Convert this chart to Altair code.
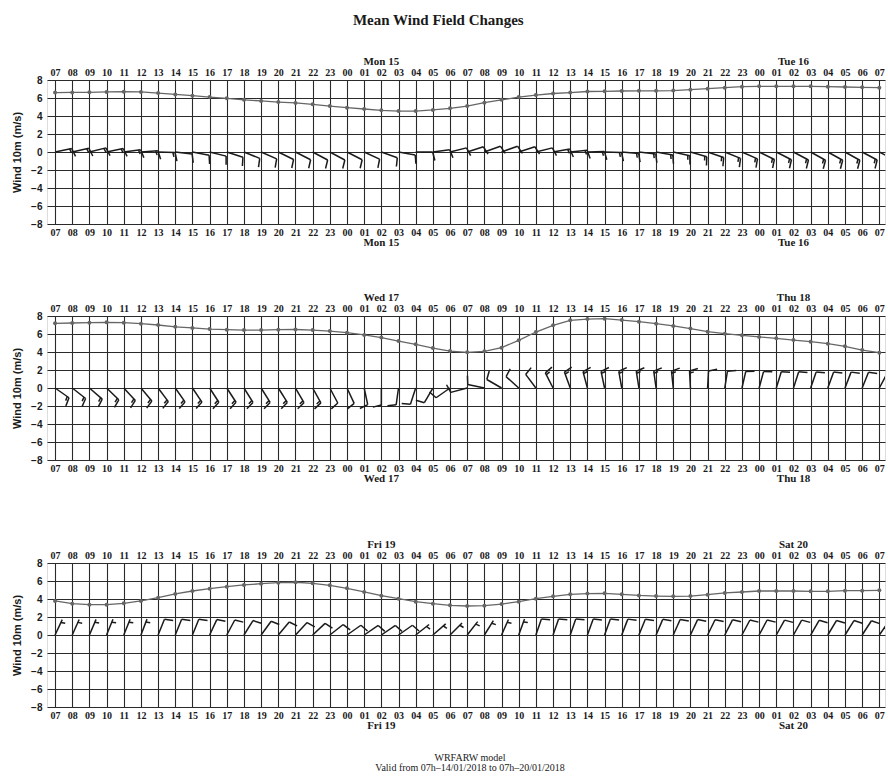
import math
import altair as alt
import pandas as pd

# ---------------- data ----------------
HOURS = ["07", "08", "09", "10", "11", "12", "13", "14", "15", "16", "17", "18", "19", "20",
         "21", "22", "23", "00", "01", "02", "03", "04", "05", "06", "07", "08", "09", "10",
         "11", "12", "13", "14", "15", "16", "17", "18", "19", "20", "21", "22", "23", "00",
         "01", "02", "03", "04", "05", "06", "07"]

DAY_POS = [19, 43]
DAYS_1 = ["Mon 15", "Tue 16"]
DAYS_2 = ["Wed 17", "Thu 18"]
DAYS_3 = ["Fri 19", "Sat 20"]

SPEED_1 = [6.6, 6.62, 6.63, 6.67, 6.7, 6.67, 6.55, 6.4, 6.26, 6.1, 5.96, 5.8, 5.67, 5.55, 5.45, 5.3, 5.1,
           4.93, 4.78, 4.63, 4.55, 4.55, 4.67, 4.85, 5.1, 5.48, 5.8, 6.1, 6.33, 6.5, 6.6, 6.72, 6.74,
           6.78, 6.8, 6.8, 6.83, 6.93, 7.04, 7.15, 7.26,
           7.3, 7.3, 7.3, 7.3, 7.26, 7.22, 7.19, 7.15]
DIR_1 = [78, 77, 76, 78, 82, 86, 92, 97, 101, 104, 108, 112, 114, 116, 117, 118, 118,
         117, 115, 110, 100, 90, 82, 76, 72, 70, 70, 72, 76, 80, 84, 88, 92, 95, 97, 100, 103, 106,
         109, 112, 114,
         116, 117, 118, 119, 119, 119, 118, 118]

SPEED_2 = [7.19, 7.22, 7.26, 7.3, 7.26, 7.15, 7.0, 6.8, 6.67, 6.55, 6.48, 6.44, 6.44, 6.48, 6.5, 6.44, 6.33,
           6.15, 5.9, 5.6, 5.22, 4.85, 4.44, 4.1, 3.96, 4.07, 4.48, 5.3, 6.22, 6.96, 7.52, 7.66, 7.7,
           7.55, 7.37, 7.15, 6.9, 6.6, 6.26, 6.04, 5.85,
           5.67, 5.52, 5.33, 5.15, 4.93, 4.63, 4.22, 3.93]
DIR_2 = [125, 128, 131, 134, 137, 140, 143, 145, 146, 147, 147, 148, 148, 148, 150, 151, 152,
         155, 168, 180, 188, 198, 210, 235, 255, 282, 300, 312, 323, 333, 340, 345, 348, 350, 351,
         352, 354, 357, 3, 9, 13,
         15, 17, 18, 19, 20, 21, 22, 28]

SPEED_3 = [3.78, 3.48, 3.37, 3.37, 3.52, 3.78, 4.15, 4.56, 4.89, 5.15, 5.37, 5.56, 5.7, 5.81, 5.86, 5.74, 5.52,
           5.19, 4.78, 4.37, 4.04, 3.7, 3.48, 3.3, 3.22, 3.26, 3.44, 3.7, 4.04, 4.3, 4.52, 4.6, 4.63,
           4.52, 4.4, 4.33, 4.3, 4.32, 4.48, 4.67, 4.78,
           4.89, 4.89, 4.89, 4.85, 4.85, 4.93, 4.93, 4.96]
DIR_3 = [25, 24, 23, 22, 22, 21, 22, 22, 22, 25, 28, 32, 36, 40, 43, 47, 52,
         55, 56, 56, 55, 52, 49, 45, 38, 32, 24, 20, 19, 19, 19, 20, 20, 21, 22, 23, 24, 25, 26,
         27, 28,
         28, 29, 29, 30, 31, 32, 33, 35]

TITLE = "Mean Wind Field Changes"
FOOTER_1 = "WRFARW model"
FOOTER_2 = "Valid from 07h\u201314/01/2018 to 07h\u201320/01/2018"
Y_TITLE = "Wind 10m (m/s)"

# ---------------- layout / style ----------------
W, H = 838, 144
X0, X1 = -0.47, 48.33
Y0, Y1 = -8, 8
PXH = W / (X1 - X0)
PXU = H / (Y1 - Y0)

STAFF = 17.0
FULL_H = 0.5 * STAFF
FULL_W = 0.25 * STAFF
SPACING = 0.125 * STAFF

SERIF = "Liberation Serif"
SANS = "Liberation Sans"
INK = "#1a1a1a"
LINE_C = "#666666"


def barb_segments(speeds, dirs):
    rows = []
    for i, (s, d) in enumerate(zip(speeds, dirs)):
        r = math.radians(d)
        ux, uy = math.sin(r), math.cos(r)
        px, py = math.cos(r), -math.sin(r)
        tx, ty = STAFF * ux, STAFF * uy

        def add(ax, ay, bx, by):
            rows.append({"x": i + ax / PXH, "y": ay / PXU, "x2": i + bx / PXH, "y2": by / PXU})

        add(0, 0, tx, ty)
        kts = s * 1.944
        rounded = 5 * round(kts / 5)
        nfull = int(rounded // 10)
        nhalf = 1 if rounded % 10 == 5 else 0
        off = 0.0
        for _ in range(nfull):
            bx, by = tx - off * ux, ty - off * uy
            add(bx, by, bx + FULL_H * px + FULL_W / 2 * ux, by + FULL_H * py + FULL_W / 2 * uy)
            off += SPACING
        if nhalf:
            if off == 0:
                off = 1.5 * SPACING
            bx, by = tx - off * ux, ty - off * uy
            add(bx, by, bx + FULL_H / 2 * px + FULL_W / 4 * ux, by + FULL_H / 2 * py + FULL_W / 4 * uy)
    return pd.DataFrame(rows)


LABEL_EXPR = "[" + ",".join("'%s'" % h for h in HOURS) + "][datum.value]"
XS = alt.Scale(domain=[X0, X1], nice=False, zero=False)
YS = alt.Scale(domain=[Y0, Y1], nice=False, zero=False)


def x_axis(orient, grid):
    return alt.Axis(orient=orient, values=list(range(len(HOURS))), labelExpr=LABEL_EXPR,
                    grid=grid, gridColor="#2a2a2a", gridWidth=1.1, gridOpacity=1,
                    ticks=False, domain=False, title=None, labelFlush=False, labelOverlap=False,
                    labelFont=SERIF, labelFontSize=10, labelFontWeight="bold", labelColor=INK,
                    labelPadding=3)


def panel(speed, direc, days, footer=False):
    df = pd.DataFrame({"t": list(range(len(speed))), "v": speed})
    segs = barb_segments(speed, direc)
    ddf = pd.DataFrame({"t": DAY_POS, "label": days})

    yaxis = alt.Axis(values=[-8, -6, -4, -2, 0, 2, 4, 6, 8], grid=True, gridColor="#2a2a2a",
                     gridWidth=1.1, gridOpacity=1, ticks=False, domain=False,
                     title=Y_TITLE, titleFont=SANS, titleFontSize=11, titleFontWeight="bold",
                     titleColor=INK, titlePadding=8, labelFont=SANS, labelFontSize=10,
                     labelFontWeight="bold", labelColor=INK, labelPadding=5)

    base_line = alt.Chart(df).mark_line(color=LINE_C, strokeWidth=1.3).encode(
        x=alt.X("t:Q", scale=XS, axis=x_axis("bottom", True)),
        y=alt.Y("v:Q", scale=YS, axis=yaxis),
    )
    pts = alt.Chart(df).mark_circle(size=16, color=LINE_C, opacity=1).encode(
        x=alt.X("t:Q", scale=XS, axis=x_axis("top", False)),
        y=alt.Y("v:Q", scale=YS, axis=None),
    )
    barbs = alt.Chart(segs).mark_rule(color=INK, strokeWidth=1.5, clip=True).encode(
        x=alt.X("x:Q", scale=XS, axis=None),
        x2="x2:Q",
        y=alt.Y("y:Q", scale=YS, axis=None),
        y2="y2:Q",
    )
    top_days = alt.Chart(ddf).mark_text(font=SERIF, fontSize=11, fontWeight="bold",
                                        color=INK, baseline="middle").encode(
        x=alt.X("t:Q", scale=XS, axis=None), y=alt.value(-18), text="label:N")
    bot_days = alt.Chart(ddf).mark_text(font=SERIF, fontSize=11, fontWeight="bold",
                                        color=INK, baseline="middle").encode(
        x=alt.X("t:Q", scale=XS, axis=None), y=alt.value(H + 19), text="label:N")

    layers = [base_line, pts, barbs, top_days, bot_days]
    if footer:
        fdf = pd.DataFrame({"a": [FOOTER_1], "b": [FOOTER_2]})
        f1 = alt.Chart(fdf).mark_text(font=SERIF, fontSize=10, color=INK, baseline="middle").encode(
            x=alt.value(W / 2 + 4), y=alt.value(H + 51), text="a:N")
        f2 = alt.Chart(fdf).mark_text(font=SERIF, fontSize=10, color=INK, baseline="middle").encode(
            x=alt.value(W / 2 + 4), y=alt.value(H + 61), text="b:N")
        layers += [f1, f2]
    return alt.layer(*layers).properties(width=W, height=H).resolve_axis(
        x="independent", y="independent")


p1 = panel(SPEED_1, DIR_1, DAYS_1)
p2 = panel(SPEED_2, DIR_2, DAYS_2)
p3 = panel(SPEED_3, DIR_3, DAYS_3, footer=True)

inner = alt.vconcat(p1, p2, spacing=42)
chart = alt.vconcat(inner, p3, spacing=53).properties(
    title=alt.TitleParams(TITLE, font=SERIF, fontSize=15, fontWeight="bold", color=INK,
                          anchor="middle", offset=28, dx=-10),
    padding={"left": 11, "top": 12, "right": 0, "bottom": 0},
).configure_view(stroke="#000000", strokeWidth=1.8).configure(background="white")

chart.save("out.html", embed_options={"renderer": "svg", "actions": False})
